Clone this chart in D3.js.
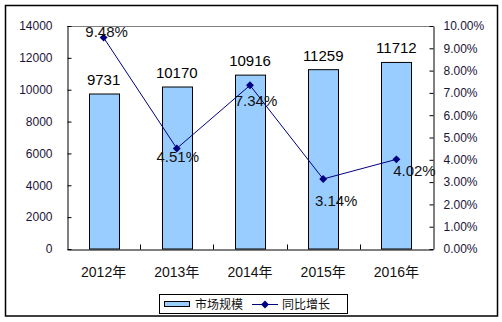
<!DOCTYPE html>
<html>
<head>
<meta charset="utf-8">
<script src="https://cdn.jsdelivr.net/npm/d3@7"></script>
<style>
  html, body { margin: 0; padding: 0; background: #fff; }
  svg text { font-family: "Liberation Sans", Arial, "Noto Sans CJK SC", sans-serif; }
</style>
</head>
<body>
<svg id="chart" width="502" height="322"></svg>
<script>
// Market size (bars, left axis) and year-on-year growth (line, right axis)
const years = ["2012年", "2013年", "2014年", "2015年", "2016年"];
const marketSize = [9731, 10170, 10916, 11259, 11712];
const growthRate = [9.48, 4.51, 7.34, 3.14, 4.02];
const leftTicks = [0, 2000, 4000, 6000, 8000, 10000, 12000, 14000];
const rightTicks = [0, 1, 2, 3, 4, 5, 6, 7, 8, 9, 10];
const legendNames = ["市场规模", "同比增长"];
// hand-placed nudges for the growth labels: [dx, dy] from each point
const growthLabelNudge = [[3, -1], [1, 14], [6, 21], [13, 27], [18, 16.5]];

const svg = d3.select("#chart");
const plot = { left: 67, right: 433, top: 26, bottom: 249 };
const tickColor = "#1c1438";

// outer frame
svg.append("rect")
  .attr("x", 5.5).attr("y", 5.5).attr("width", 492).attr("height", 310.5)
  .attr("fill", "none").attr("stroke", "#000").attr("stroke-width", 1.5);

const x = d3.scaleBand().domain(years).range([plot.left, plot.right])
  .paddingInner(0.59).paddingOuter(0.295);
const yL = d3.scaleLinear().domain([0, 14000]).range([plot.bottom, plot.top]);
const yR = d3.scaleLinear().domain([0, 10]).range([plot.bottom, plot.top]);

// top edge of the plot area
svg.append("line")
  .attr("x1", plot.left).attr("x2", plot.right)
  .attr("y1", plot.top + 0.5).attr("y2", plot.top + 0.5)
  .attr("stroke", "#808080").attr("stroke-width", 1);

// bars
svg.append("g").selectAll("rect").data(marketSize).join("rect")
  .attr("x", (d, i) => Math.round(x(years[i])) + 0.5)
  .attr("y", d => yL(d))
  .attr("width", x.bandwidth())
  .attr("height", d => plot.bottom - yL(d))
  .attr("fill", "#99ccff").attr("stroke", "#000").attr("stroke-width", 1);

// left axis
const axL = svg.append("g").attr("transform", `translate(${plot.left + 0.5},0)`)
  .call(d3.axisLeft(yL).tickValues(leftTicks).tickSizeInner(-4).tickSizeOuter(0)
    .tickPadding(15).tickFormat(d3.format("d")));
axL.selectAll("text").attr("font-size", 12).attr("fill", tickColor)
  .attr("font-family", "Liberation Sans, Arial, sans-serif");

// right axis
const axR = svg.append("g").attr("transform", `translate(${plot.right + 0.5},0)`)
  .call(d3.axisRight(yR).tickValues(rightTicks).tickSizeInner(-4).tickSizeOuter(0)
    .tickPadding(10).tickFormat(d => d.toFixed(2) + "%"));
axR.selectAll("text").attr("font-size", 12).attr("fill", tickColor)
  .attr("font-family", "Liberation Sans, Arial, sans-serif");

// bottom axis with category ticks between the bars
const axB = svg.append("g").attr("transform", `translate(0,${plot.bottom + 0.5})`)
  .call(d3.axisBottom(x).tickSize(0).tickPadding(18));
axB.selectAll("text").attr("font-size", 14).attr("fill", "#111");
axB.append("g").selectAll("line").data(years.slice(1)).join("line")
  .attr("x1", d => Math.round(x(d) - x.step() * x.paddingInner() / 2) + 0.5)
  .attr("x2", d => Math.round(x(d) - x.step() * x.paddingInner() / 2) + 0.5)
  .attr("y1", 0).attr("y2", -5).attr("stroke", "#000");

[axL, axR, axB].forEach(g => {
  g.selectAll("path.domain").attr("stroke", "#000").attr("stroke-width", 1);
  g.selectAll(".tick line").attr("stroke", "#000");
});

// bar value labels
svg.append("g").selectAll("text").data(marketSize).join("text")
  .attr("x", (d, i) => x(years[i]) + x.bandwidth() / 2)
  .attr("y", d => yL(d) - 9)
  .attr("text-anchor", "middle").attr("font-size", 15).attr("fill", "#000")
  .text(d => d);

// growth line and diamond markers
const cx = i => x(years[i]) + x.bandwidth() / 2;
svg.append("path")
  .datum(growthRate)
  .attr("d", d3.line().x((d, i) => cx(i)).y(d => yR(d)))
  .attr("fill", "none").attr("stroke", "#000080").attr("stroke-width", 1);
svg.append("g").selectAll("path").data(growthRate).join("path")
  .attr("transform", (d, i) => `translate(${cx(i)},${yR(d)})`)
  .attr("d", d3.symbol(d3.symbolDiamond2, 40))
  .attr("fill", "#000080");

// growth labels
svg.append("g").selectAll("text").data(growthRate).join("text")
  .attr("x", (d, i) => cx(i) + growthLabelNudge[i][0])
  .attr("y", (d, i) => yR(d) + growthLabelNudge[i][1])
  .attr("text-anchor", "middle").attr("font-size", 15).attr("fill", "#111")
  .text(d => d.toFixed(2) + "%");

// legend
const lg = svg.append("g");
lg.append("rect").attr("x", 159.5).attr("y", 294.5).attr("width", 188).attr("height", 19)
  .attr("fill", "#fff").attr("stroke", "#000").attr("stroke-width", 1);
lg.append("rect").attr("x", 164.5).attr("y", 301.5).attr("width", 25).attr("height", 5)
  .attr("fill", "#99ccff").attr("stroke", "#000");
lg.append("text").attr("x", 195).attr("y", 308.5).attr("font-size", 12)
  .attr("font-family", "Noto Sans CJK SC, sans-serif").attr("fill", "#111").text(legendNames[0]);
lg.append("line").attr("x1", 252).attr("x2", 278).attr("y1", 304.5).attr("y2", 304.5)
  .attr("stroke", "#000080");
lg.append("path").attr("transform", "translate(265,304.5)")
  .attr("d", d3.symbol(d3.symbolDiamond2, 40)).attr("fill", "#000080");
lg.append("text").attr("x", 282).attr("y", 308.5).attr("font-size", 12)
  .attr("font-family", "Noto Sans CJK SC, sans-serif").attr("fill", "#111").text(legendNames[1]);
</script>
</body>
</html>
